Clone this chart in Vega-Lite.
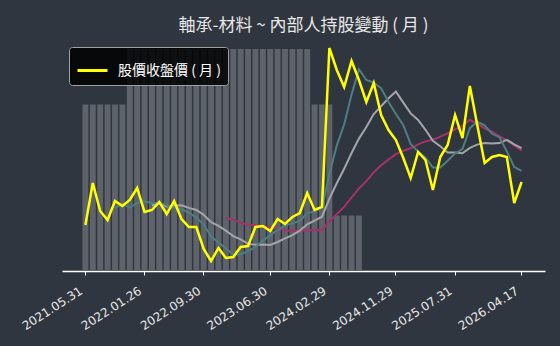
{
  "$schema": "https://vega.github.io/schema/vega-lite/v6.json",
  "autosize": {"type": "none"},
  "width": 483,
  "height": 233,
  "padding": {"left": 62, "top": 38, "right": 15, "bottom": 75},
  "background": "#30363f",
  "config": {"view": {"stroke": null}},
  "title": {"text": "軸承-材料 ~ 內部人持股變動 ( 月 )", "font": "Noto Sans CJK TC", "fontSize": 17, "fontWeight": "normal", "color": "#e8e8e8", "anchor": "middle", "offset": 3},
  "data": {"values": [
    {"d": "2021.05.31", "close": 46, "hold": 3},
    {"d": "2021.06.30", "close": 88, "hold": 3},
    {"d": "2021.07.30", "close": 60, "hold": 3},
    {"d": "2021.08.31", "close": 51, "hold": 3},
    {"d": "2021.09.30", "close": 70, "ma5": 63, "hold": 3},
    {"d": "2021.10.29", "close": 65, "ma5": 66.8, "hold": 3},
    {"d": "2021.11.30", "close": 71, "ma5": 63.4, "hold": 4},
    {"d": "2021.12.30", "close": 83, "ma5": 68, "hold": 4},
    {"d": "2022.01.26", "close": 59, "ma5": 69.6, "hold": 4},
    {"d": "2022.02.25", "close": 61, "ma5": 67.8, "ma10": 65.4, "hold": 4},
    {"d": "2022.03.31", "close": 69, "ma5": 68.6, "ma10": 67.7, "hold": 4},
    {"d": "2022.04.29", "close": 57, "ma5": 65.8, "ma10": 64.6, "hold": 4},
    {"d": "2022.05.31", "close": 70, "ma5": 63.2, "ma10": 65.6, "hold": 4},
    {"d": "2022.06.30", "close": 52, "ma5": 61.8, "ma10": 65.7, "hold": 4},
    {"d": "2022.07.29", "close": 44, "ma5": 58.4, "ma10": 63.1, "hold": 4},
    {"d": "2022.08.31", "close": 44, "ma5": 53.4, "ma10": 61, "hold": 4},
    {"d": "2022.09.30", "close": 22, "ma5": 46.4, "ma10": 56.1, "hold": 4},
    {"d": "2022.10.31", "close": 10, "ma5": 34.4, "ma10": 48.8, "hold": 4},
    {"d": "2022.11.30", "close": 23, "ma5": 28.6, "ma10": 45.2, "hold": 4},
    {"d": "2022.12.30", "close": 13, "ma5": 22.4, "ma10": 40.4, "ma20": 52.9, "hold": 4},
    {"d": "2023.01.31", "close": 14, "ma5": 16.4, "ma10": 34.9, "ma20": 51.3, "hold": 4},
    {"d": "2023.02.24", "close": 24, "ma5": 16.8, "ma10": 31.6, "ma20": 48.1, "hold": 4},
    {"d": "2023.03.31", "close": 25, "ma5": 19.8, "ma10": 27.1, "ma20": 46.35, "hold": 4},
    {"d": "2023.04.28", "close": 44, "ma5": 24, "ma10": 26.3, "ma20": 46, "hold": 4},
    {"d": "2023.05.31", "close": 45, "ma5": 30.4, "ma10": 26.4, "ma20": 44.75, "hold": 4},
    {"d": "2023.06.30", "close": 40, "ma5": 35.6, "ma10": 26, "ma20": 43.5, "hold": 4},
    {"d": "2023.07.31", "close": 52, "ma5": 41.2, "ma10": 29, "ma20": 42.55, "hold": 4},
    {"d": "2023.08.31", "close": 47, "ma5": 45.6, "ma10": 32.7, "ma20": 40.75, "hold": 4},
    {"d": "2023.09.28", "close": 54, "ma5": 47.6, "ma10": 35.8, "ma20": 40.5, "hold": 4},
    {"d": "2023.10.31", "close": 58, "ma5": 50.2, "ma10": 40.3, "ma20": 40.35, "hold": 4},
    {"d": "2023.11.30", "close": 78, "ma5": 57.8, "ma10": 46.7, "ma20": 40.8, "hold": 4},
    {"d": "2023.12.29", "close": 61, "ma5": 59.6, "ma10": 50.4, "ma20": 41, "hold": 3},
    {"d": "2024.01.31", "close": 64, "ma5": 63, "ma10": 54.3, "ma20": 40.7, "hold": 3},
    {"d": "2024.02.29", "close": 223, "ma5": 96.8, "ma10": 72.2, "ma20": 49.25, "hold": 3},
    {"d": "2024.03.29", "close": 201, "ma5": 125.4, "ma10": 87.8, "ma20": 57.1, "hold": 1},
    {"d": "2024.04.30", "close": 184, "ma5": 146.6, "ma10": 102.2, "ma20": 64.1, "hold": 1},
    {"d": "2024.05.31", "close": 210, "ma5": 176.4, "ma10": 118, "ma20": 73.5, "hold": 1},
    {"d": "2024.06.28", "close": 191, "ma5": 201.8, "ma10": 132.4, "ma20": 82.55, "hold": 1},
    {"d": "2024.07.31", "close": 169, "ma5": 191, "ma10": 143.9, "ma20": 89.85},
    {"d": "2024.08.30", "close": 188, "ma5": 188.4, "ma10": 156.9, "ma20": 98.6},
    {"d": "2024.09.30", "close": 156, "ma5": 182.8, "ma10": 164.7, "ma20": 105.7},
    {"d": "2024.10.30", "close": 141, "ma5": 169, "ma10": 172.7, "ma20": 111.55},
    {"d": "2024.11.29", "close": 131, "ma5": 157, "ma10": 179.4, "ma20": 116.85},
    {"d": "2024.12.31", "close": 113, "ma5": 145.8, "ma10": 168.4, "ma20": 120.3},
    {"d": "2025.01.22", "close": 93, "ma5": 126.8, "ma10": 157.6, "ma20": 122.7},
    {"d": "2025.02.27", "close": 119, "ma5": 119.4, "ma10": 151.1, "ma20": 126.65},
    {"d": "2025.03.31", "close": 111, "ma5": 113.4, "ma10": 141.2, "ma20": 129.6},
    {"d": "2025.04.30", "close": 81, "ma5": 103.4, "ma10": 130.2, "ma20": 131.3},
    {"d": "2025.05.29", "close": 114, "ma5": 103.6, "ma10": 124.7, "ma20": 134.3},
    {"d": "2025.06.30", "close": 126, "ma5": 110.2, "ma10": 118.5, "ma20": 137.7},
    {"d": "2025.07.31", "close": 156, "ma5": 117.6, "ma10": 118.5, "ma20": 141.6},
    {"d": "2025.08.29", "close": 133, "ma5": 122, "ma10": 117.7, "ma20": 145.2},
    {"d": "2025.09.30", "close": 185, "ma5": 142.8, "ma10": 123.1, "ma20": 151.25},
    {"d": "2025.10.31", "close": 146, "ma5": 149.2, "ma10": 126.4, "ma20": 147.4},
    {"d": "2025.11.28", "close": 108, "ma5": 145.6, "ma10": 127.9, "ma20": 142.75},
    {"d": "2025.12.31", "close": 114, "ma5": 137.2, "ma10": 127.4, "ma20": 139.25},
    {"d": "2026.01.30", "close": 116, "ma5": 133.8, "ma10": 127.9, "ma20": 134.55},
    {"d": "2026.02.26", "close": 114, "ma5": 119.6, "ma10": 131.2, "ma20": 130.7},
    {"d": "2026.03.31", "close": 68, "ma5": 104, "ma10": 126.6, "ma20": 125.65},
    {"d": "2026.04.17", "close": 89, "ma5": 100.2, "ma10": 122.9, "ma20": 120.7}
  ]},
  "encoding": {
    "x": {
      "field": "d", "type": "ordinal", "sort": null,
      "scale": {
        "type": "band", "paddingInner": 0.2, "paddingOuter": 0.765,
        "domain": ["_a", "_b",
          "2021.05.31", "2021.06.30", "2021.07.30", "2021.08.31", "2021.09.30", "2021.10.29", "2021.11.30", "2021.12.30",
          "2022.01.26", "2022.02.25", "2022.03.31", "2022.04.29", "2022.05.31", "2022.06.30", "2022.07.29", "2022.08.31", "2022.09.30", "2022.10.31", "2022.11.30", "2022.12.30",
          "2023.01.31", "2023.02.24", "2023.03.31", "2023.04.28", "2023.05.31", "2023.06.30", "2023.07.31", "2023.08.31", "2023.09.28", "2023.10.31", "2023.11.30", "2023.12.29",
          "2024.01.31", "2024.02.29", "2024.03.29", "2024.04.30", "2024.05.31", "2024.06.28", "2024.07.31", "2024.08.30", "2024.09.30", "2024.10.30", "2024.11.29", "2024.12.31",
          "2025.01.22", "2025.02.27", "2025.03.31", "2025.04.30", "2025.05.29", "2025.06.30", "2025.07.31", "2025.08.29", "2025.09.30", "2025.10.31", "2025.11.28", "2025.12.31",
          "2026.01.30", "2026.02.26", "2026.03.31", "2026.04.17",
          "_y", "_z"]
      },
      "axis": {
        "title": null, "grid": false,
        "values": ["2021.05.31", "2022.01.26", "2022.09.30", "2023.06.30", "2024.02.29", "2024.11.29", "2025.07.31", "2026.04.17"],
        "domainColor": "#ffffff", "domainWidth": 1.5, "tickColor": "#ffffff", "tickSize": 4, "tickWidth": 1,
        "labelColor": "#e8e8e8", "labelFont": "DejaVu Sans", "labelFontSize": 12, "labelAngle": -33,
        "labelAlign": "right", "labelBaseline": "top", "labelPadding": 10, "labelOffset": -7
      }
    }
  },
  "layer": [
    {
      "mark": {"type": "bar", "color": "#5e636b"},
      "encoding": {"y": {"field": "hold", "type": "quantitative", "scale": {"domain": [0, 4.2]}, "axis": null}}
    },
    {
      "layer": [
        {"mark": {"type": "line", "color": "#a8306c", "strokeWidth": 2}, "encoding": {"y": {"field": "ma20", "type": "quantitative"}}},
        {"mark": {"type": "line", "color": "#a3a5aa", "strokeWidth": 2}, "encoding": {"y": {"field": "ma10", "type": "quantitative"}}},
        {"mark": {"type": "line", "color": "#4d7f82", "strokeWidth": 2}, "encoding": {"y": {"field": "ma5", "type": "quantitative"}}},
        {
          "mark": {"type": "line", "strokeWidth": 2.5},
          "encoding": {
            "y": {"field": "close", "type": "quantitative"},
            "color": {
              "datum": "股價收盤價 ( 月 )",
              "scale": {"range": ["#ffff00"]},
              "legend": {
                "title": null, "orient": "none", "legendX": 7, "legendY": 9,
                "fillColor": "rgba(0,0,0,0.85)", "strokeColor": "#a0a0a0", "cornerRadius": 3, "padding": 7,
                "symbolType": "stroke", "symbolSize": 900, "symbolStrokeWidth": 3, "symbolStrokeColor": "#ffff00",
                "labelFont": "Noto Sans CJK TC", "labelFontSize": 14, "labelColor": "#ffffff", "labelOffset": 9
              }
            }
          }
        }
      ],
      "encoding": {"y": {"type": "quantitative", "scale": {"domain": [0, 233]}, "axis": null}}
    }
  ],
  "resolve": {"scale": {"y": "independent"}}
}
